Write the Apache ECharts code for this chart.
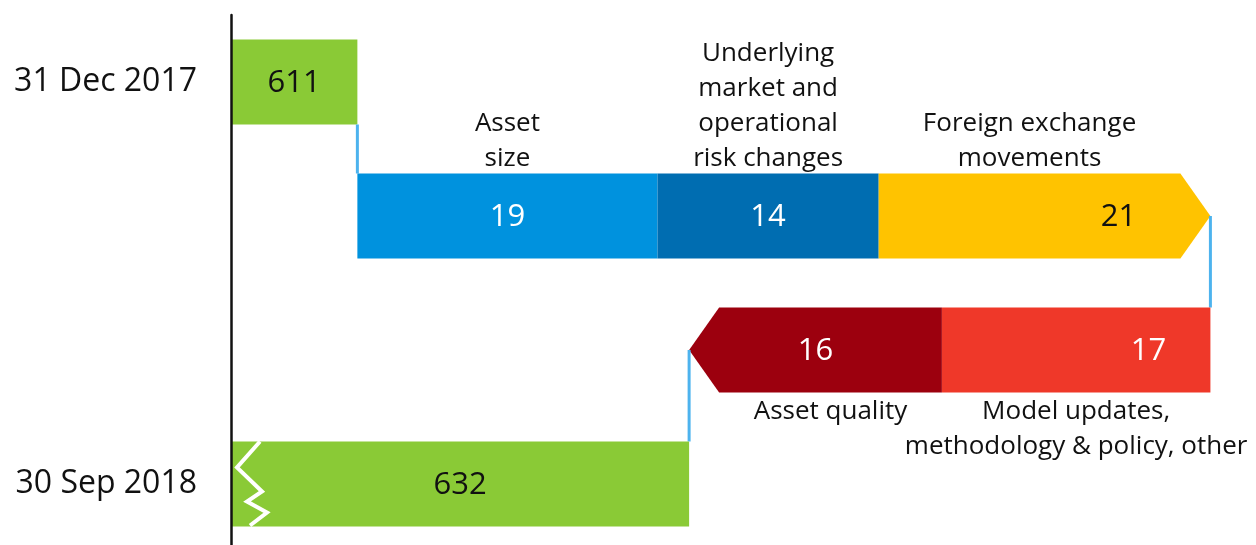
<!DOCTYPE html>
<html>
<head>
<meta charset="utf-8">
<title>RWA movement</title>
<script src="https://cdn.jsdelivr.net/npm/echarts@6/dist/echarts.min.js"></script>
<style>
    html, body { margin: 0; padding: 0; background: #fff; }
    #chart { width: 1256px; height: 545px; }
</style>
</head>
<body>
<div id="chart"></div>
<script>
//---data----------------------------------
var rowLabels = ['31 Dec 2017', '', '', '30 Sep 2018'];
var stepNames = ['31 Dec 2017', 'Asset\nsize', 'Underlying\nmarket and\noperational\nrisk changes',
    'Foreign exchange\nmovements', 'Model updates,\nmethodology & policy, other', 'Asset quality', '30 Sep 2018'];
var stepValues = [611, 19, 14, 21, -17, -16, 632];
var stepRows = [0, 1, 1, 1, 2, 2, 3];
var stepIsTotal = [true, false, false, false, false, false, true];

//---styles--------------------------------
var stepColors = ['#8aca36', '#0092de', '#006db1', '#ffc300', '#ef3829', '#9c000e', '#8aca36'];
var labelColors = ['#111', '#fff', '#fff', '#111', '#fff', '#fff', '#111'];
var labelPlace = ['center', 'center', 'center', 'end', 'end', 'center', 'center'];
var FONT = '"Open Sans", sans-serif';
var AXIS_MIN = 603, AXIS_MAX = 667;
var BAR_H = 85, ARROW_W = 30;

//---build waterfall rows------------------
var stepData = [];
var running = 0;
stepValues.forEach(function (v, i) {
    var from, to;
    if (stepIsTotal[i]) {
        from = AXIS_MIN;
        to = v;
    } else {
        from = running;
        to = running + v;
    }
    running = to;
    stepData.push([stepRows[i], from, to]);
});

function isLastInRow(i) {
    return i === stepRows.length - 1 || stepRows[i + 1] !== stepRows[i];
}

function renderStep(params, api) {
    var i = params.dataIndex;
    var row = api.value(0);
    var from = api.value(1);
    var to = api.value(2);
    var pFrom = api.coord([from, row]);
    var pTo = api.coord([to, row]);
    var cy = pFrom[1];
    var top = cy - BAR_H / 2, bottom = cy + BAR_H / 2;
    var left = Math.min(pFrom[0], pTo[0]);
    var right = Math.max(pFrom[0], pTo[0]);
    var bodyL = left, bodyR = right, points;
    var arrow = (!stepIsTotal[i] && isLastInRow(i)) ? (to > from ? 'right' : 'left') : null;

    if (arrow === 'right') {
        bodyR = right - ARROW_W;
        points = [[left, top], [bodyR, top], [right, cy], [bodyR, bottom], [left, bottom]];
    } else if (arrow === 'left') {
        bodyL = left + ARROW_W;
        points = [[right, top], [bodyL, top], [left, cy], [bodyL, bottom], [right, bottom]];
    } else {
        points = [[left, top], [right, top], [right, bottom], [left, bottom]];
    }

    var children = [{
        type: 'polygon',
        shape: { points: points },
        style: { fill: stepColors[i] }
    }];

    // axis break mark on the closing bar
    if (i === stepValues.length - 1) {
        children.push({
            type: 'polyline',
            shape: { points: [[left + 29, top], [left + 6, top + 26], [left + 31, top + 50],
                [left + 16, top + 60], [left + 36, top + 71], [left + 19, top + 84]] },
            style: { stroke: '#fff', lineWidth: 4, fill: null }
        });
    }

    var lx = labelPlace[i] === 'end' ? bodyR - 62 : (left + right) / 2;
    children.push({
        type: 'text',
        style: {
            text: String(Math.abs(stepValues[i])),
            x: lx, y: cy + 1,
            align: 'center', verticalAlign: 'middle',
            fill: labelColors[i],
            font: '31px ' + FONT
        },
        z2: 5
    });

    if (!stepIsTotal[i]) {
        var up = stepValues[i] > 0;
        children.push({
            type: 'text',
            style: {
                text: stepNames[i],
                x: (bodyL + bodyR) / 2,
                y: up ? top + 3 : bottom + 2,
                align: 'center',
                verticalAlign: up ? 'bottom' : 'top',
                fill: '#111',
                font: '26px ' + FONT,
                lineHeight: 35
            }
        });
    }

    // connector to the next row
    if (i < stepValues.length - 1 && stepRows[i + 1] !== stepRows[i]) {
        var nextTop = api.coord([to, stepRows[i + 1]])[1] - BAR_H / 2;
        children.push({
            type: 'line',
            shape: { x1: pTo[0], y1: arrow ? cy : bottom, x2: pTo[0], y2: nextTop },
            style: { stroke: '#4db3ee', lineWidth: 3 }
        });
    }

    return { type: 'group', children: children };
}

//---init----------------------------------
var chart = echarts.init(document.getElementById('chart'));
chart.setOption({
    backgroundColor: '#fff',
    animation: false,
    grid: { left: 231, right: 14, top: 15, height: 536, outerBoundsMode: 'none' },
    xAxis: {
        type: 'value',
        min: AXIS_MIN,
        max: AXIS_MAX,
        show: false
    },
    yAxis: {
        type: 'category',
        inverse: true,
        data: rowLabels,
        z: 10,
        axisLine: { lineStyle: { color: '#111', width: 2.5 } },
        axisTick: { show: false },
        splitLine: { show: false },
        axisLabel: {
            margin: 34,
            color: '#111',
            fontSize: 32,
            fontFamily: FONT
        }
    },
    series: [{
        type: 'custom',
        renderItem: renderStep,
        encode: { x: [1, 2], y: 0 },
        data: stepData
    }]
});
</script>
</body>
</html>
